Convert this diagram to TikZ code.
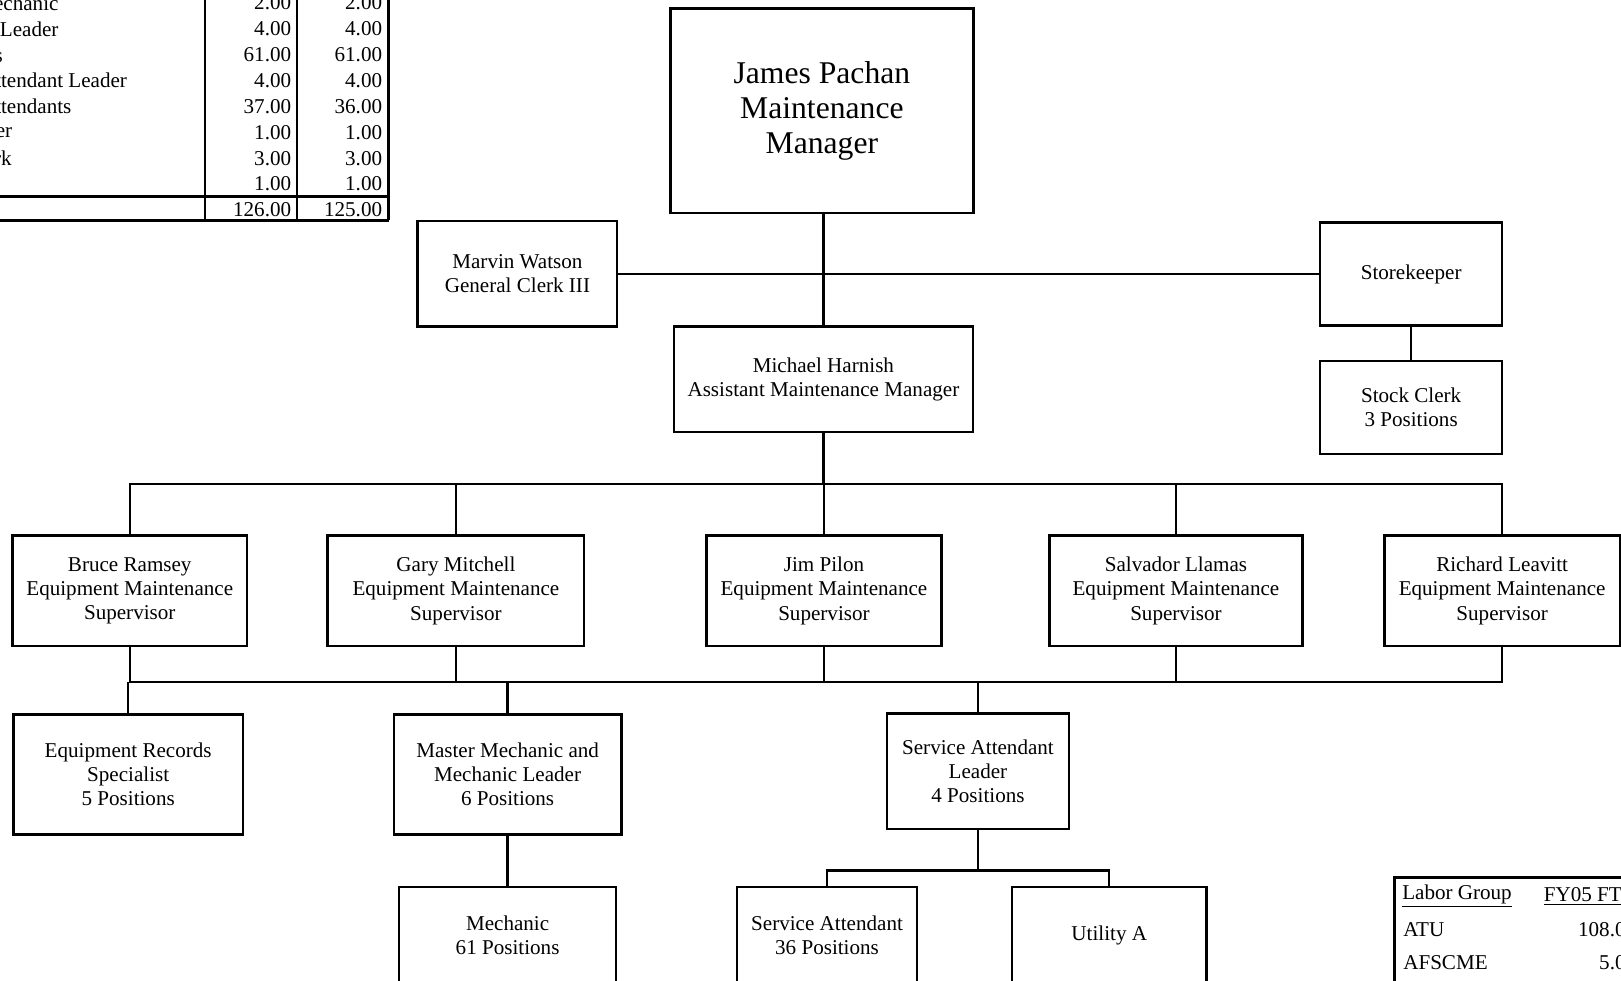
\documentclass[tikz,border=0pt]{standalone}
\usepackage{fontspec}
\setmainfont{Liberation Serif}
\begin{document}
\begin{tikzpicture}[x=0.5pt,y=-0.5pt,
        box/.style={draw, line width=1.2pt, align=center, inner sep=0pt,
                font=\fontsize{10.2}{11.75}\selectfont},
        link/.style={line width=1.1pt},
        cell/.style={inner sep=0pt, font=\fontsize{10.2}{12}\selectfont}]
    \useasboundingbox (0,0) rectangle (1568,948);
    \clip (0,0) rectangle (1568,948);

    % Staffing table (top left, cut by the page edge)
    \draw[line width=1.1pt] (198,-10) -- (198,213);
    \draw[line width=1.1pt] (287,-10) -- (287,213);
    \draw[line width=1.5pt] (376,-10) -- (376,213);
    \draw[line width=1.3pt] (-10,190) -- (376,190);
    \draw[line width=1.3pt] (-10,213) -- (376,213);
    \foreach \i/\lbl in {0/Master Mechanic,1/Mechanic Leader,2/Mechanics,
            3/Service Attendant Leader,4/Service Attendants,5/Storekeeper,6/Stock Clerk} {
            \node[cell, anchor=west] (lbl\i) at (-86,3+25*\i) {\lbl};
        }
    \foreach \i/\fya/\fyb in {0/2.00/2.00,1/4.00/4.00,2/61.00/61.00,3/4.00/4.00,
            4/37.00/36.00,5/1.00/1.00,6/3.00/3.00,7/1.00/1.00,8/126.00/125.00} {
            \node[cell, anchor=east] (fya\i) at (282,3+25*\i) {\fya};
            \node[cell, anchor=east] (fyb\i) at (370,3+25*\i) {\fyb};
        }

    % Labor group table (bottom right)
    \draw[line width=1.2pt] (1349,960) -- (1349,849) -- (1580,849);
    \node[cell, anchor=west] (grp) at (1356,867) {\underline{Labor Group}};
    \node[cell, anchor=west] (fte) at (1493,867) {\underline{FY05 FTE}};
    \node[cell, anchor=west] (atu) at (1357,899) {ATU};
    \node[cell, anchor=east] (atuval) at (1583,899) {108.00};
    \node[cell, anchor=west] (afscme) at (1357,931) {AFSCME};
    \node[cell, anchor=east] (afscmeval) at (1583,931) {5.00};

    % Manager and staff
    \node[box, minimum width=146.5pt, minimum height=99pt,
        font=\fontsize{15.3}{17}\selectfont] (pachan) at (795,107) {James Pachan\\Maintenance\\Manager};
    \node[box, minimum width=96.5pt, minimum height=51pt] (watson) at (500.5,265) {Marvin Watson\\General Clerk III};
    \node[box, minimum width=88pt, minimum height=50pt] (store) at (1365,265) {Storekeeper};
    \node[box, minimum width=88pt, minimum height=45pt] (stock) at (1365,394) {Stock Clerk\\3 Positions};
    \node[box, minimum width=144.5pt, minimum height=51pt] (harnish) at (796.5,367) {Michael Harnish\\Assistant Maintenance Manager};

    % Supervisors
    \foreach \n/\x/\w/\who in {ramsey/125.5/113.5/Bruce Ramsey,mitchell/441/124/Gary Mitchell,
            pilon/797/113.5/Jim Pilon,llamas/1137.5/122.5/Salvador Llamas,leavitt/1453/114/Richard Leavitt} {
            \node[box, minimum width=\w pt, minimum height=53.5pt] (\n) at (\x,571.5) {\who\\Equipment Maintenance\\Supervisor};
        }

    % Positions
    \node[box, minimum width=111pt, minimum height=58pt] (records) at (124,749) {Equipment Records\\Specialist\\5 Positions};
    \node[box, minimum width=110pt, minimum height=58pt] (master) at (491,749) {Master Mechanic and\\Mechanic Leader\\6 Positions};
    \node[box, minimum width=88pt, minimum height=56pt] (leader) at (946,746) {Service Attendant\\Leader\\4 Positions};
    \node[box, minimum width=105pt, minimum height=46.5pt] (mechanic) at (491,904.5) {Mechanic\\61 Positions};
    \node[box, minimum width=87pt, minimum height=46.5pt] (attendant) at (800,904.5) {Service Attendant\\36 Positions};
    \node[box, minimum width=94pt, minimum height=46.5pt] (utility) at (1073,904.5) {Utility A};

    % Lines
    \coordinate (topbus) at (0,468);
    \coordinate (lowbus) at (0,660);
    \coordinate (attbus) at (0,842);
    \draw[link] (harnish.north) -- (harnish.north |- pachan.south);
    \draw[link] (watson) -- (store);
    \draw[link] (store) -- (stock);
    \draw[link] (harnish.south) -- (harnish.south |- topbus);
    \draw[link] (ramsey.north) |- (topbus -| leavitt.north) -- (leavitt.north);
    \foreach \n in {mitchell,pilon,llamas} {
            \draw[link] (\n.north) -- (\n.north |- topbus);
        }
    \draw[link] (ramsey.south) |- (lowbus -| leavitt.south) -- (leavitt.south);
    \foreach \n in {mitchell,pilon,llamas} {
            \draw[link] (\n.south) -- (\n.south |- lowbus);
        }
    \foreach \n in {records,master,leader} {
            \draw[link] (\n.north) -- (\n.north |- lowbus);
        }
    \draw[link] (master) -- (mechanic);
    \draw[link] (leader.south) -- (leader.south |- attbus);
    \draw[link] (attendant.north) |- (attbus -| utility.north) -- (utility.north);
\end{tikzpicture}
\end{document}
